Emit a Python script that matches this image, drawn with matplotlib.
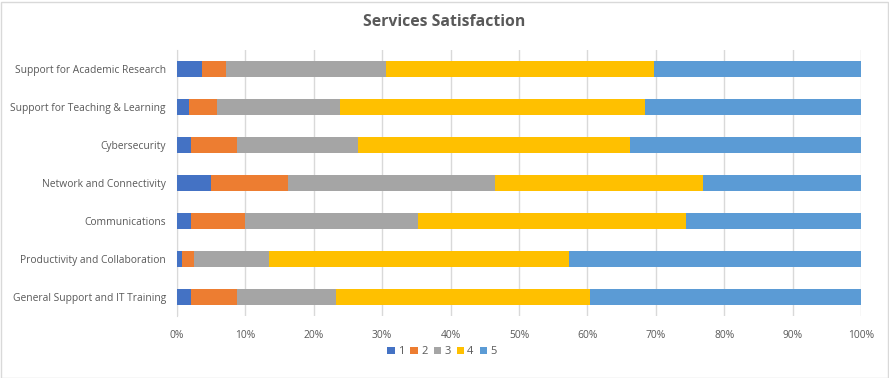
import matplotlib.pyplot as plt
from matplotlib.patches import Rectangle
import numpy as np

plt.rcParams['font.family'] = ['Open Sans', 'DejaVu Sans']

categories = ["Support for Academic Research", "Support for Teaching & Learning",
              "Cybersecurity", "Network and Connectivity", "Communications",
              "Productivity and Collaboration", "General Support and IT Training"]
series_names = ["1", "2", "3", "4", "5"]
# percent of responses per rating
r1 = [3.6, 1.7, 2.1, 4.9, 2.0, 0.8, 2.0]
r2 = [3.6, 4.1, 6.7, 11.4, 7.9, 1.7, 6.7]
r3 = [23.4, 18.0, 17.6, 30.2, 25.4, 11.0, 14.5]
r4 = [39.1, 44.6, 39.8, 30.4, 39.1, 43.8, 37.2]
r5 = [30.3, 31.6, 33.8, 23.1, 25.6, 42.7, 39.6]
colors = ["#4472C4", "#ED7D31", "#A5A5A5", "#FFC000", "#5B9BD5"]

data = np.array([r1, r2, r3, r4, r5], dtype=float)
data = data / data.sum(axis=0) * 100

fig = plt.figure(figsize=(8.89, 3.78), dpi=100)
ax = fig.add_axes([177/889, 1 - 316/378, 684/889, 266/378])

y = np.arange(len(categories))
left = np.zeros(len(categories))
for i in range(5):
    ax.barh(y, data[i], left=left, height=0.42, color=colors[i], label=series_names[i], zorder=3)
    left += data[i]

ax.set_ylim(len(categories) - 0.5, -0.5)
ax.set_xlim(0, 100)
ax.set_yticks(y)
ax.set_yticklabels(categories)
ax.set_xticks(np.arange(0, 101, 10))
ax.set_xticklabels([f"{v}%" for v in range(0, 101, 10)])
ax.tick_params(axis='both', length=0, labelsize=7.4, colors="#595959")
ax.tick_params(axis='x', pad=10)
ax.tick_params(axis='y', pad=8)
ax.xaxis.grid(True, color="#D9D9D9", linewidth=1, zorder=0)
for s in ["top", "right", "bottom"]:
    ax.spines[s].set_visible(False)
ax.spines["left"].set_color("#D9D9D9")

fig.suptitle("Services Satisfaction", y=1 - 22/378, va='center', fontsize=11.3,
             fontweight='bold', color="#595959")

fig.legend(loc='center', bbox_to_anchor=(442/889, 1 - 352/378), ncol=5, frameon=False,
           fontsize=8, handlelength=0.65, handleheight=0.65, handletextpad=0.3,
           columnspacing=0.55, labelcolor="#595959")

fig.patches.append(Rectangle((0.5/889, 0.5/378), 887/889, 376/378, transform=fig.transFigure,
                             fill=False, edgecolor="#D9D9D9", linewidth=1))

fig.savefig("out.png", dpi=100)
